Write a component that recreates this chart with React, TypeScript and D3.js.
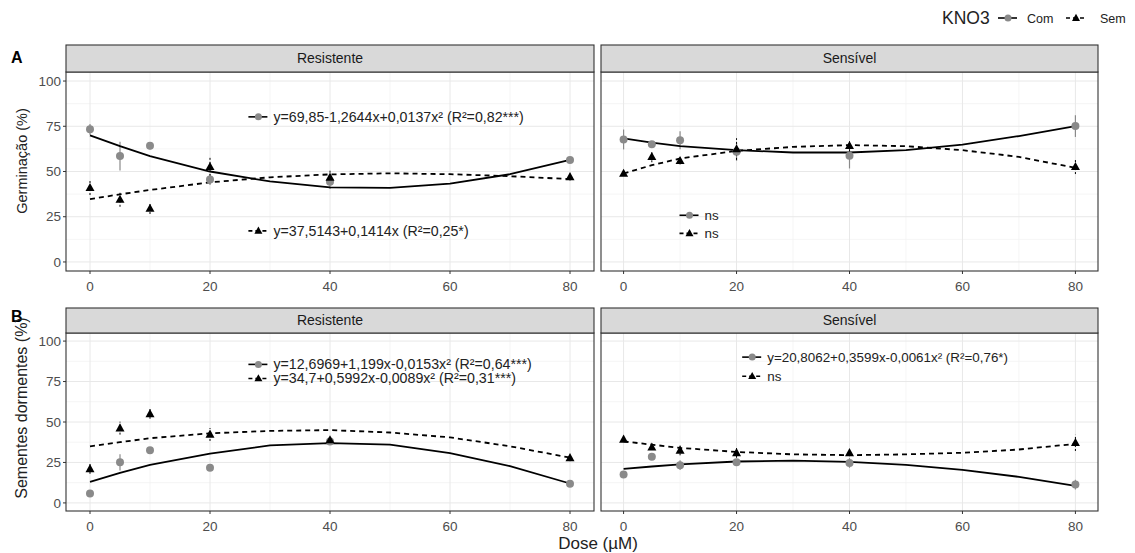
import React from 'react'
import * as d3 from 'd3'

const doses = [0, 5, 10, 20, 40, 80]
const fitX = [0, 5, 10, 20, 30, 40, 50, 60, 70, 80]
const xTicks = [0, 20, 40, 60, 80]
const yTicks = [0, 25, 50, 75, 100]
const facets = ['Resistente', 'Sensível']

// Germinação (%)
const germResCom = [73.3, 58.5, 64.2, 45.6, 44.3, 56.3]
const germResComErr = [3, 8, 2, 3, 4, 1.5]
const germResSem = [41, 34.5, 29.5, 52.6, 46.7, 47]
const germResSemErr = [4, 4, 3, 5, 4, 2]
const germResComFit = [70, 64, 58.5, 50, 44.5, 41.2, 40.9, 43.3, 48.5, 56.4]
const germResSemFit = [34.7, 37.4, 39.8, 44, 46.8, 48.4, 49, 48.5, 47.4, 45.8]

const germSenCom = [67.7, 65, 67.3, 60.9, 58.7, 75.1]
const germSenComErr = [5.5, 1.5, 5, 5, 7, 6]
const germSenSem = [48.9, 58.1, 55.9, 62.4, 64.2, 52.6]
const germSenSemErr = [1, 3, 2, 6, 3, 4]
const germSenComFit = [68.3, 66, 64, 61.8, 60.5, 60.5, 61.8, 64.8, 69.6, 75.1]
const germSenSemFit = [48.9, 53.5, 57.2, 61.4, 63.6, 64.6, 64, 61.8, 58.1, 52]

// Sementes dormentes (%)
const dormResCom = [5.8, 25.1, 32.5, 21.7, 38, 11.9]
const dormResComErr = [1, 5, 1.5, 1.5, 2, 1]
const dormResSem = [21, 46.2, 55, 42.3, 38.8, 27.8]
const dormResSemErr = [3, 4, 3, 4, 2, 2]
const dormResComFit = [13, 18.5, 23.5, 30.5, 35.5, 37, 36, 30.8, 22.7, 12]
const dormResSemFit = [35, 37.5, 40, 43, 44.5, 45, 43.5, 40.5, 35, 28]

const dormSenCom = [17.5, 28.5, 23.3, 25.1, 24.7, 11.3]
const dormSenComErr = [1, 1, 3, 2, 3, 3]
const dormSenSem = [39.2, 34.4, 32.4, 30.9, 30.9, 37.1]
const dormSenSemErr = [1.5, 1.5, 3, 3, 2, 5]
const dormSenComFit = [21, 22.5, 23.8, 25.6, 26.1, 25.4, 23.5, 20.4, 16.1, 10.5]
const dormSenSemFit = [38, 36, 34, 31.5, 30, 29.5, 30, 31, 33, 36.5]

const annGermRes = ['y=69,85-1,2644x+0,0137x² (R²=0,82***)', 'y=37,5143+0,1414x (R²=0,25*)']
const annGermSen = ['ns', 'ns']
const annDormRes = ['y=12,6969+1,199x-0,0153x² (R²=0,64***)', 'y=34,7+0,5992x-0,0089x² (R²=0,31***)']
const annDormSen = ['y=20,8062+0,3599x-0,0061x² (R²=0,76*)', 'ns']

const GREY = '#8a8a8a'
const FONT = '"Liberation Sans", Arial, sans-serif'

type Panel = {
  facet: string
  left: number
  right: number
  stripTop: number
  top: number
  bottom: number
  annSize: number
  com: number[]
  comErr: number[]
  sem: number[]
  semErr: number[]
  comFit: number[]
  semFit: number[]
  ann: string[]
  annX: number
  annY: number[]
}

const rows = [
  { label: 'A', title: 'Germinação (%)', titleSize: 14.5, titleY: 161, labelY: 63, stripTop: 45, top: 72, bottom: 271 },
  { label: 'B', title: 'Sementes dormentes (%)', titleSize: 16, titleY: 408, labelY: 322, stripTop: 308, top: 333, bottom: 511 },
]
const cols = [
  { left: 66, right: 594, annSize: 14.2 },
  { left: 601, right: 1098, annSize: 13.4 },
]

const panels: Panel[] = [
  { facet: facets[0], ...cols[0], ...rows[0], com: germResCom, comErr: germResComErr, sem: germResSem, semErr: germResSemErr, comFit: germResComFit, semFit: germResSemFit, ann: annGermRes, annX: 26.4, annY: [80.2, 17.2] },
  { facet: facets[1], ...cols[1], ...rows[0], com: germSenCom, comErr: germSenComErr, sem: germSenSem, semErr: germSenSemErr, comFit: germSenComFit, semFit: germSenSemFit, ann: annGermSen, annX: 9.9, annY: [25.8, 15.8] },
  { facet: facets[0], ...cols[0], ...rows[1], com: dormResCom, comErr: dormResComErr, sem: dormResSem, semErr: dormResSemErr, comFit: dormResComFit, semFit: dormResSemFit, ann: annDormRes, annX: 26.4, annY: [85.6, 76.9] },
  { facet: facets[1], ...cols[1], ...rows[1], com: dormSenCom, comErr: dormSenComErr, sem: dormSenSem, semErr: dormSenSemErr, comFit: dormSenComFit, semFit: dormSenSemFit, ann: annDormSen, annX: 21, annY: [90.1, 78.3] },
]

function triPath(cx: number, cy: number, s: number) {
  const h = s * 0.9
  return `M${cx},${cy - h * 0.6}L${cx + s / 2},${cy + h * 0.4}L${cx - s / 2},${cy + h * 0.4}Z`
}

function Key({ x, y, kind }: { x: number; y: number; kind: 'com' | 'sem' }) {
  return (
    <g>
      <line x1={x} x2={x + 19} y1={y} y2={y} stroke="#000" strokeWidth={1.6}
        strokeDasharray={kind === 'sem' ? '4,3' : undefined} />
      {kind === 'com'
        ? <circle cx={x + 10} cy={y} r={3.5} fill={GREY} />
        : <path d={triPath(x + 10, y, 8)} fill="#000" />}
    </g>
  )
}

function PanelView({ p }: { p: Panel }) {
  const x = d3.scaleLinear().domain([-4, 84]).range([p.left, p.right])
  const y = d3.scaleLinear().domain([-5, 105]).range([p.bottom, p.top])
  const line = d3.line<number>().x((_, i) => x(fitX[i])).y(d => y(d))
  const minorX = [10, 30, 50, 70]
  const minorY = [12.5, 37.5, 62.5, 87.5]
  return (
    <g>
      <rect x={p.left} y={p.top} width={p.right - p.left} height={p.bottom - p.top} fill="#fff" />
      {minorX.map(v => <line key={'mx' + v} x1={x(v)} x2={x(v)} y1={p.top} y2={p.bottom} stroke="#f3f3f3" strokeWidth={0.8} />)}
      {minorY.map(v => <line key={'my' + v} y1={y(v)} y2={y(v)} x1={p.left} x2={p.right} stroke="#f3f3f3" strokeWidth={0.8} />)}
      {xTicks.map(v => <line key={'gx' + v} x1={x(v)} x2={x(v)} y1={p.top} y2={p.bottom} stroke="#e8e8e8" strokeWidth={1} />)}
      {yTicks.map(v => <line key={'gy' + v} y1={y(v)} y2={y(v)} x1={p.left} x2={p.right} stroke="#e8e8e8" strokeWidth={1} />)}

      {/* error bars */}
      {doses.map((d, i) => (
        <line key={'ec' + i} x1={x(d)} x2={x(d)} y1={y(p.com[i] - p.comErr[i])} y2={y(p.com[i] + p.comErr[i])}
          stroke={GREY} strokeWidth={1.2} />
      ))}
      {doses.map((d, i) => (
        <line key={'es' + i} x1={x(d)} x2={x(d)} y1={y(p.sem[i] - p.semErr[i])} y2={y(p.sem[i] + p.semErr[i])}
          stroke="#000" strokeWidth={1} strokeDasharray="2,2" />
      ))}

      <path d={line(p.comFit) || ''} fill="none" stroke="#000" strokeWidth={1.8} />
      <path d={line(p.semFit) || ''} fill="none" stroke="#000" strokeWidth={1.8} strokeDasharray="5,4" />

      {doses.map((d, i) => <circle key={'pc' + i} cx={x(d)} cy={y(p.com[i])} r={4} fill={GREY} />)}
      {doses.map((d, i) => <path key={'ps' + i} d={triPath(x(d), y(p.sem[i]), 9)} fill="#000" />)}

      {p.ann.map((t, i) => (
        <g key={'an' + i}>
          <Key x={x(p.annX)} y={y(p.annY[i])} kind={i === 0 ? 'com' : 'sem'} />
          <text x={x(p.annX) + 25} y={y(p.annY[i])} dy="0.35em" fontSize={p.annSize} fill="#222" fontFamily={FONT}>{t}</text>
        </g>
      ))}

      <rect x={p.left} y={p.top} width={p.right - p.left} height={p.bottom - p.top} fill="none" stroke="#333" strokeWidth={1.1} />
      <rect x={p.left} y={p.stripTop} width={p.right - p.left} height={p.top - p.stripTop} fill="#d9d9d9" stroke="#333" strokeWidth={1.1} />
      <text x={(p.left + p.right) / 2} y={(p.stripTop + p.top) / 2} dy="0.35em" textAnchor="middle" fontSize={14} fill="#1a1a1a" fontFamily={FONT}>{p.facet}</text>

      {xTicks.map(v => (
        <g key={'tx' + v}>
          <line x1={x(v)} x2={x(v)} y1={p.bottom} y2={p.bottom + 3} stroke="#333" />
          <text x={x(v)} y={p.bottom + 20} textAnchor="middle" fontSize={13.5} fill="#4d4d4d" fontFamily={FONT}>{v}</text>
        </g>
      ))}
      {p.left < 100 && yTicks.map(v => (
        <g key={'ty' + v}>
          <line x1={p.left - 3} x2={p.left} y1={y(v)} y2={y(v)} stroke="#333" />
          <text x={p.left - 5} y={y(v)} dy="0.35em" textAnchor="end" fontSize={13.5} fill="#4d4d4d" fontFamily={FONT}>{v}</text>
        </g>
      ))}
    </g>
  )
}

export default function App() {
  return (
    <svg width={1135} height={553} style={{ display: 'block', position: 'absolute', left: 0, top: 0 }}>
      <rect width={1135} height={553} fill="#fff" />
      {panels.map((p, i) => <PanelView key={i} p={p} />)}
      {rows.map(r => (
        <g key={r.label}>
          <text x={11} y={r.labelY} fontSize={16} fontWeight="bold" fill="#000" fontFamily={FONT}>{r.label}</text>
          <text transform={`translate(27,${r.titleY}) rotate(-90)`}
            textAnchor="middle" fontSize={r.titleSize} fill="#222" fontFamily={FONT}>{r.title}</text>
        </g>
      ))}
      <text x={598} y={549} textAnchor="middle" fontSize={17} fill="#222" fontFamily={FONT}>Dose (µM)</text>

      {/* legend */}
      <text x={942} y={24} fontSize={17.5} fill="#222" fontFamily={FONT}>KNO3</text>
      <Key x={998} y={18} kind="com" />
      <text x={1027} y={22.5} fontSize={12.5} fill="#222" fontFamily={FONT}>Com</text>
      <Key x={1066} y={18} kind="sem" />
      <text x={1100} y={22.5} fontSize={12.5} fill="#222" fontFamily={FONT}>Sem</text>
    </svg>
  )
}
